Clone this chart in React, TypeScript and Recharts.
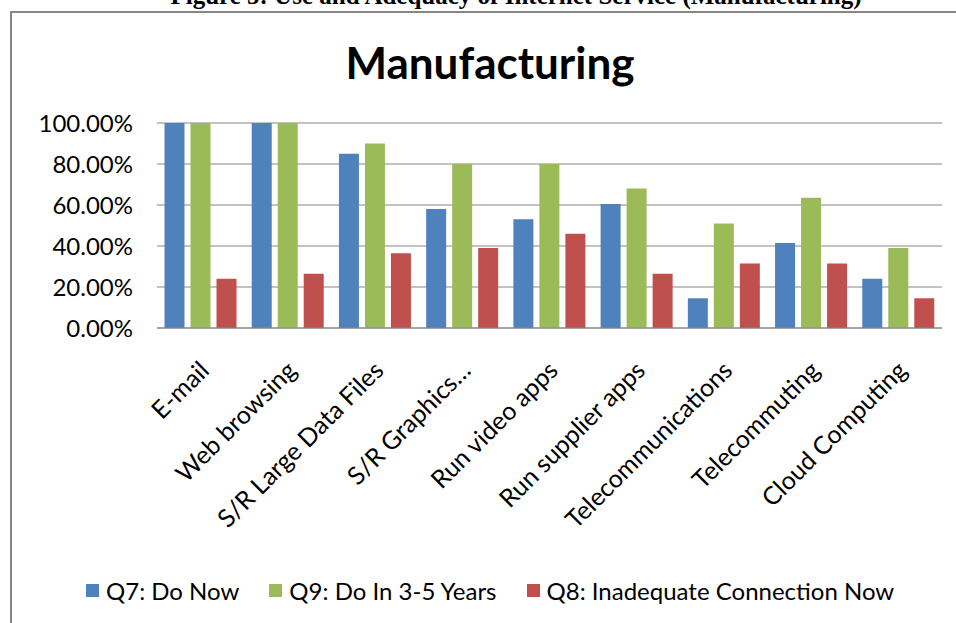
import React from "react";
import { BarChart, Bar, XAxis, YAxis, CartesianGrid, Legend } from "recharts";

const categories = [
  "E-mail",
  "Web browsing",
  "S/R Large Data Files",
  "S/R Graphics…",
  "Run video apps",
  "Run supplier apps",
  "Telecommunications",
  "Telecommuting",
  "Cloud Computing",
];

const doNow = [100, 100, 85, 58, 53, 60.5, 14.5, 41.5, 24];
const doIn3to5 = [100, 100, 90, 80, 80, 68, 51, 63.5, 39];
const inadequateNow = [24, 26.5, 36.5, 39, 46, 26.5, 31.5, 31.5, 14.5];

const yTicks = [0, 20, 40, 60, 80, 100];

const series = [
  { key: "doNow", name: "Q7: Do Now", color: "#4F81BD" },
  { key: "doIn3to5", name: "Q9: Do In 3-5 Years", color: "#9BBB59" },
  { key: "inadequateNow", name: "Q8: Inadequate Connection Now", color: "#C0504D" },
];

const data = categories.map((name, i) => ({
  name,
  doNow: doNow[i],
  doIn3to5: doIn3to5[i],
  inadequateNow: inadequateNow[i],
}));

const font = "Lato, 'Open Sans', sans-serif";

const AngledTick = (props: any) => {
  const { x, y, payload } = props;
  return (
    <g transform={`translate(${x + 10},${y + 42})`}>
      <text textAnchor="end" transform="rotate(-45)" fontSize={25} fontFamily={font} fill="#000">
        {payload.value}
      </text>
    </g>
  );
};

const LegendBox = () => (
  <div style={{ height: 30, display: "flex", alignItems: "center", paddingLeft: 86, fontFamily: font, fontSize: 24, color: "#000" }}>
    {series.map((s) => (
      <div key={s.key} style={{ display: "flex", alignItems: "center", marginRight: 30 }}>
        <span style={{ width: 13, height: 13, background: s.color, marginRight: 7, display: "inline-block" }} />
        <span>{s.name}</span>
      </div>
    ))}
  </div>
);

export default function App() {
  return (
    <div style={{ position: "absolute", left: 0, top: 0, width: 956, height: 623, overflow: "hidden", background: "#fff" }}>
      <div
        style={{
          position: "absolute",
          left: 100,
          width: 832,
          top: -16,
          lineHeight: "24px",
          textAlign: "center",
          whiteSpace: "nowrap",
          fontFamily: "'Liberation Serif', serif",
          fontWeight: "bold",
          fontSize: 25,
        }}
      >
        Figure 5: Use and Adequacy of Internet Service (Manufacturing)
      </div>
      <div style={{ position: "absolute", left: 10, top: 11, width: 1000, height: 700, border: "2px solid #868686" }} />
      <div
        style={{
          position: "absolute",
          left: 290,
          width: 400,
          top: 36,
          textAlign: "center",
          fontFamily: font,
          fontWeight: "bold",
          fontSize: 44,
          lineHeight: "52px",
        }}
      >
        Manufacturing
      </div>
      <div style={{ position: "absolute", left: 0, top: 0 }}>
        <BarChart
          width={956}
          height={623}
          data={data}
          margin={{ top: 123, right: 14, left: 0, bottom: 18 }}
          barCategoryGap={7.5}
          barGap={6}
        >
          <CartesianGrid vertical={false} stroke="#868686" />
          <XAxis
            dataKey="name"
            interval={0}
            height={247}
            tickLine={false}
            tickSize={0}
            axisLine={{ stroke: "#868686" }}
            tick={<AngledTick />}
          />
          <YAxis
            width={157}
            domain={[0, 100]}
            ticks={yTicks}
            axisLine={false}
            tickLine={false}
            tickSize={0}
            tickMargin={24}
            tickFormatter={(v: number) => v.toFixed(2) + "%"}
            tick={{ fontSize: 24, fontFamily: font, fill: "#000" }}
          />
          <Legend verticalAlign="bottom" wrapperStyle={{ left: 0, width: 956 }} content={<LegendBox />} />
          {series.map((s) => (
            <Bar key={s.key} dataKey={s.key} name={s.name} fill={s.color} isAnimationActive={false} />
          ))}
        </BarChart>
      </div>
    </div>
  );
}
